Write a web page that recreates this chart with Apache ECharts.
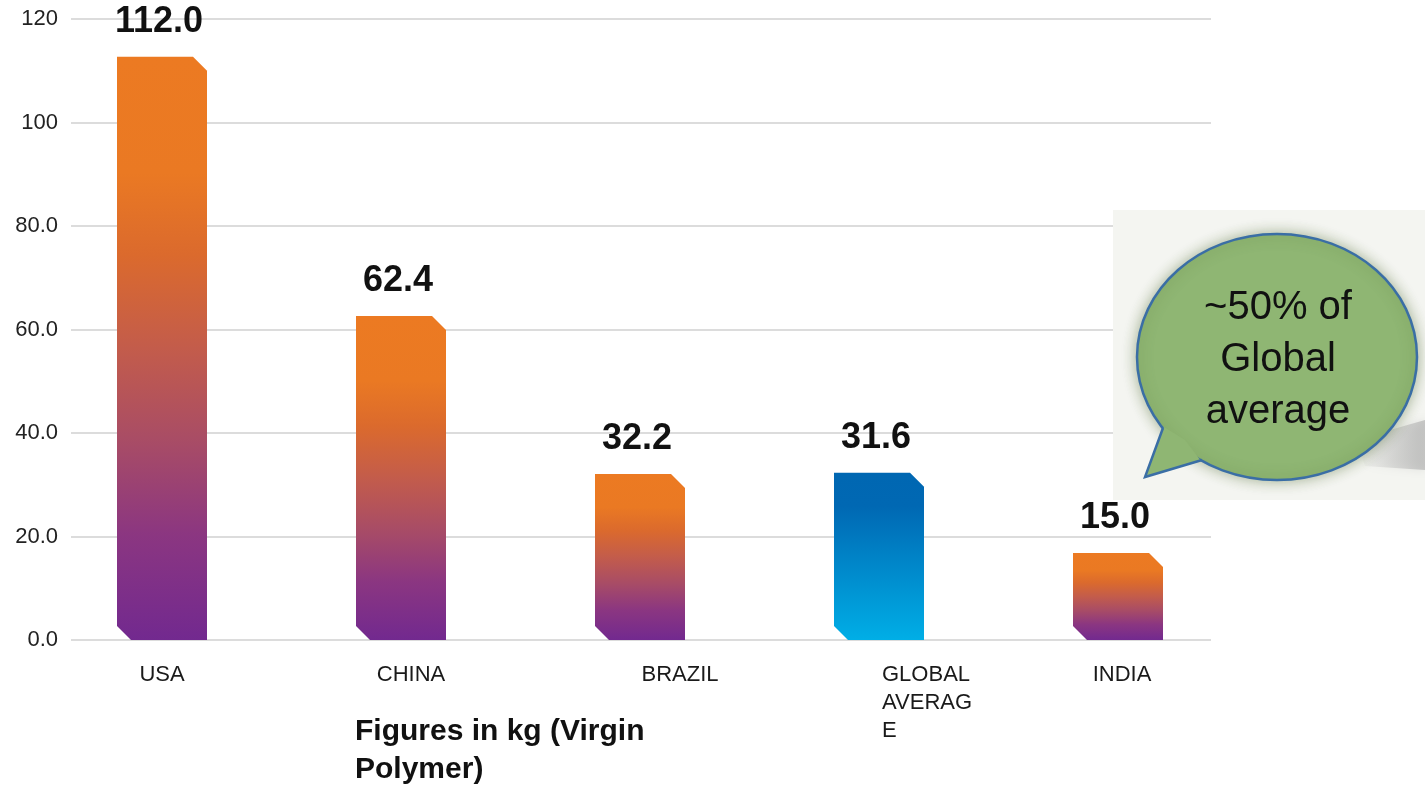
<!DOCTYPE html>
<html>
<head>
<meta charset="utf-8">
<title>Per capita polymer consumption</title>
<script src="https://cdn.jsdelivr.net/npm/echarts@6/dist/echarts.min.js"></script>
<style>
  html, body { margin: 0; padding: 0; background: #ffffff; }
  #chart { width: 1425px; height: 785px; }
</style>
</head>
<body>
<div id="chart"></div>
<script>
// data
var categories = ['USA', 'CHINA', 'BRAZIL', 'GLOBAL AVERAGE', 'INDIA'];
var barValues = [112.7, 62.6, 32.1, 32.3, 16.8];      // bar heights as drawn
var valueLabels = ['112.0', '62.4', '32.2', '31.6', '15.0']; // printed labels
var yTickLabels = ['0.0', '20.0', '40.0', '60.0', '80.0', '100', '120'];
var highlightIndex = 3; // global average bar drawn in blue

var FONT = '"Liberation Sans", Arial, sans-serif';
var BAR_WIDTH = 90;
var CUT = 14;

var orangeStops = [
    { offset: 0, color: '#ec7a22' },
    { offset: 0.2, color: '#ea7923' },
    { offset: 0.34, color: '#db6a2d' },
    { offset: 0.5, color: '#c35c4b' },
    { offset: 0.66, color: '#a84c66' },
    { offset: 0.82, color: '#8b3681' },
    { offset: 1, color: '#72298f' }
];
var blueStops = [
    { offset: 0, color: '#0067b2' },
    { offset: 0.2, color: '#0068b3' },
    { offset: 1, color: '#00aee6' }
];

// per-label tweaks so the category names sit as in the original
var labelStyles = [
    {},
    { padding: [0, 0, 0, 20] },
    { padding: [0, 0, 0, 80] },
    { align: 'left', width: 100, overflow: 'breakAll', padding: [0, 0, 0, 3] },
    { padding: [0, 0, 0, 8] }
];

function renderBar(params, api) {
    var idx = params.dataIndex;
    var top = api.coord([api.value(0), api.value(1)]);
    var base = api.coord([api.value(0), 0]);
    var l = top[0] - BAR_WIDTH / 2;
    var r = top[0] + BAR_WIDTH / 2;
    var t = top[1];
    var b = base[1];
    return {
        type: 'group',
        children: [{
            type: 'polygon',
            shape: {
                points: [[l, t], [r - CUT, t], [r, t + CUT], [r, b], [l + CUT, b], [l, b - CUT]]
            },
            style: {
                fill: {
                    type: 'linear', x: 0, y: 0, x2: 0, y2: 1,
                    colorStops: idx === highlightIndex ? blueStops : orangeStops
                }
            }
        }, {
            type: 'text',
            style: {
                text: valueLabels[idx],
                x: top[0] - 3,
                y: t - 17,
                align: 'center',
                verticalAlign: 'bottom',
                font: 'bold 36px ' + FONT,
                fill: '#111111'
            }
        }]
    };
}

var chart = echarts.init(document.getElementById('chart'));

var bubbleFill = '#8fb673';
var bubbleStroke = '#3a6ea5';

var option = {
    animation: false,
    title: {
        text: 'Figures in kg (Virgin\nPolymer)',
        left: 350,
        top: 708,
        textStyle: {
            fontFamily: FONT,
            fontSize: 30,
            fontWeight: 'bold',
            lineHeight: 38,
            color: '#111111'
        }
    },
    grid: [
        // bars
        { left: 42.5, width: 1195, top: 19, bottom: 145 },
        // gridlines + y labels
        { left: 71, right: 214, top: 19, bottom: 145 }
    ],
    xAxis: [{
        type: 'category',
        gridIndex: 0,
        data: categories.map(function (c, i) {
            return { value: c, textStyle: labelStyles[i] };
        }),
        axisLine: { show: false },
        axisTick: { show: false },
        axisLabel: {
            interval: 0,
            hideOverlap: false,
            margin: 21,
            fontFamily: FONT,
            fontSize: 22,
            lineHeight: 28,
            color: '#1a1a1a'
        }
    }, {
        type: 'value',
        gridIndex: 1,
        show: false,
        min: 0,
        max: 1
    }],
    yAxis: [{
        type: 'value',
        gridIndex: 0,
        min: 0,
        max: 120,
        interval: 20,
        show: false
    }, {
        type: 'value',
        gridIndex: 1,
        min: 0,
        max: 120,
        interval: 20,
        axisLine: { show: false },
        axisTick: { show: false },
        splitLine: { lineStyle: { color: '#dcdcdc', width: 2 } },
        axisLabel: {
            margin: 13,
            fontFamily: FONT,
            fontSize: 22,
            color: '#222222',
            formatter: function (v) { return yTickLabels[Math.round(v / 20)]; }
        }
    }],
    series: [{
        type: 'custom',
        xAxisIndex: 0,
        yAxisIndex: 0,
        renderItem: renderBar,
        encode: { x: 0, y: 1 },
        data: barValues.map(function (v, i) { return [i, v]; }),
        z: 3
    }],
    graphic: [{
        type: 'rect',
        z: 50,
        shape: { x: 1113, y: 210, width: 312, height: 290 },
        style: { fill: '#f4f5f1' }
    }, {
        type: 'polygon',
        z: 51,
        shape: { points: [[1355, 440], [1425, 420], [1425, 470], [1365, 466]] },
        style: {
            fill: {
                type: 'linear', x: 0, y: 0, x2: 1, y2: 0,
                colorStops: [
                    { offset: 0, color: 'rgba(170,170,170,0)' },
                    { offset: 1, color: 'rgba(170,170,170,0.6)' }
                ]
            },
            shadowBlur: 10,
            shadowColor: 'rgba(170,170,170,0.5)'
        }
    }, {
        type: 'ellipse',
        z: 52,
        shape: { cx: 1277, cy: 357, rx: 140, ry: 123 },
        style: {
            fill: bubbleFill,
            stroke: bubbleStroke,
            lineWidth: 2.5,
            shadowBlur: 14,
            shadowColor: 'rgba(70,100,40,0.45)'
        }
    }, {
        // tail body covers the ellipse outline between the joins
        type: 'polygon',
        z: 53,
        shape: { points: [[1164, 427], [1145, 477], [1201, 461], [1185, 440]] },
        style: { fill: bubbleFill }
    }, {
        type: 'polyline',
        z: 54,
        shape: { points: [[1163, 428], [1145, 477], [1202, 460]] },
        style: { stroke: bubbleStroke, lineWidth: 2.5, fill: null }
    }, {
        type: 'text',
        z: 55,
        style: {
            text: '~50% of\nGlobal\naverage',
            x: 1278,
            y: 360,
            align: 'center',
            verticalAlign: 'middle',
            font: '40px ' + FONT,
            lineHeight: 52,
            fill: '#111111'
        }
    }]
};

chart.setOption(option);
</script>
</body>
</html>
